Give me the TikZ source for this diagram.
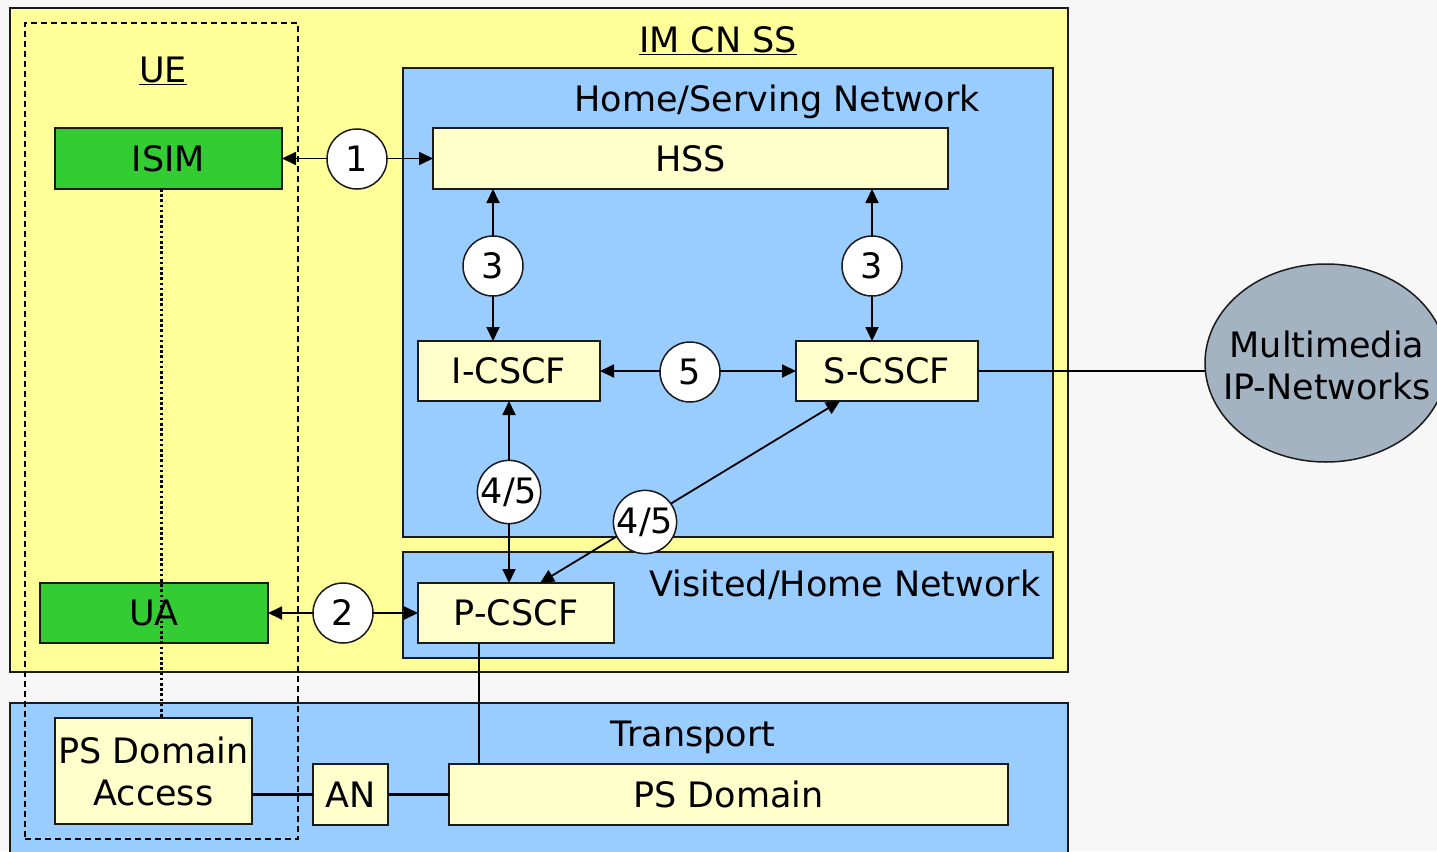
\documentclass[tikz,border=0pt]{standalone}
\usepackage{fontspec}
\setmainfont{DejaVu Sans}
\usetikzlibrary{arrows.meta,shapes.geometric}
\definecolor{bgc}{HTML}{F7F7F7}
\definecolor{imyel}{HTML}{FFFF99}
\definecolor{netblue}{HTML}{99CCFF}
\definecolor{boxyel}{HTML}{FFFFCC}
\definecolor{uegreen}{HTML}{33CC33}
\definecolor{mmgrey}{HTML}{A3B3C2}
\definecolor{edge}{HTML}{1A1A1A}
\begin{document}
\begin{tikzpicture}[x=1pt,y=-1pt,
  every node/.style={font=\fontsize{35}{43}\selectfont, inner sep=0pt, outer sep=0pt},
  area/.style={draw=edge, line width=1.5pt, rectangle},
  elem/.style={draw=edge, line width=1.5pt, rectangle, fill=boxyel, align=center},
  greenbox/.style={elem, fill=uegreen},
  num/.style={draw=edge, line width=1.5pt, circle, fill=white, minimum size=60pt},
  link/.style={line width=1.8pt, draw=black},
  biarrow/.style={link, {Triangle[length=14pt,width=13pt]}-{Triangle[length=14pt,width=13pt]}},
  uedash/.style={draw=black, line width=1.7pt, dash pattern=on 6pt off 4pt},
  dotline/.style={draw=black, line width=2.6pt, dash pattern=on 2.6pt off 2.6pt},
  lbl/.style={text=black}
]
\clip (0,0) rectangle (1437,851);
\fill[bgc] (0,0) rectangle (1437,851);

% containers
\node[area, fill=imyel, minimum width=1058pt, minimum height=664pt] (imcn) at (539,340) {};
\node[area, fill=netblue, minimum width=1058pt, minimum height=170pt] (transport) at (539,788) {};
\node[area, fill=netblue, minimum width=650pt, minimum height=469pt] (hsn) at (728,302.5) {};
\node[area, fill=netblue, minimum width=650pt, minimum height=106pt] (vhn) at (728,605) {};

% titles
\node[lbl] (timcn) at (718,41) {\underline{IM CN SS}};
\node[lbl] (tue) at (163,71) {\underline{UE}};
\node[lbl] (thsn) at (777,102) {Home/Serving Network};
\node[lbl] (tvhn) at (845,585) {Visited/Home Network};
\node[lbl] (ttr) at (693,737) {Transport};

% elements
\node[greenbox, minimum width=227pt, minimum height=61pt] (isim) at (168.5,158.5) {ISIM};
\node[elem, minimum width=515pt, minimum height=61pt] (hss) at (690.5,158.5) {HSS};
\node[elem, minimum width=182pt, minimum height=60pt] (icscf) at (509,371) {I-CSCF};
\node[elem, minimum width=182pt, minimum height=60pt] (scscf) at (887,371) {S-CSCF};
\node[elem, minimum width=196pt, minimum height=60pt] (pcscf) at (516,613) {P-CSCF};
\node[greenbox, minimum width=228pt, minimum height=60pt] (ua) at (154,613) {UA};
\node[elem, minimum width=197pt, minimum height=106pt] (psda) at (153.5,771) {PS Domain\\[-1pt]Access};
\node[elem, minimum width=75pt, minimum height=61pt] (an) at (350.5,794.5) {AN};
\node[elem, minimum width=559pt, minimum height=61pt] (psd) at (728.5,794.5) {PS Domain};

\node[ellipse, draw=edge, line width=1.5pt, fill=mmgrey, minimum width=242pt, minimum height=198pt] (mm) at (1326,363) {};
\node[lbl, align=center] (mmtext) at (1327,365) {Multimedia\\[-1pt]IP-Networks};

% UE dashed boundary
\node[uedash, rectangle, minimum width=273pt, minimum height=816pt] (ue) at (161.5,431) {};

% circle positions
\coordinate (p1) at (357,159);
\coordinate (p3a) at (493,266);
\coordinate (p3b) at (872,266);
\coordinate (p5) at (690,372);
\coordinate (p45a) at (509,492);
\coordinate (p45b) at (645,522);
\coordinate (p2) at (343,613);

% connectors
\draw[dotline] (ue |- isim.south) -- (ue |- psda.north);
\draw[biarrow] (isim.east) -- (hss.west);
\draw[biarrow] (p3a |- hss.south) -- (p3a |- icscf.north);
\draw[biarrow] (p3b |- hss.south) -- (p3b |- scscf.north);
\draw[biarrow] (icscf.east) -- (scscf.west);
\draw[biarrow] (icscf.south) -- (icscf.south |- pcscf.north);
\draw[biarrow] ([xshift=24pt]pcscf.north) -- ([xshift=-47pt]scscf.south);
\draw[biarrow] (ua.east) -- (pcscf.west);
\draw[link] (scscf.east) -- (scscf.east -| mm.west);
\draw[link] ([xshift=-37pt]pcscf.south) -- ([xshift=-37pt]pcscf.south |- psd.north);
\draw[link, line width=2.6pt] (psda.east |- an.west) -- (an.west);
\draw[link, line width=2.6pt] (an.east) -- (psd.west);

% numbered circles
\node[num] (c1) at (p1) {1};
\node[num] (c3a) at (p3a) {3};
\node[num] (c3b) at (p3b) {3};
\node[num] (c5) at (p5) {5};
\node[num] (c45a) at (p45a) {4/5};
\node[num] (c45b) at (p45b) {4/5};
\node[num] (c2) at (p2) {2};
\end{tikzpicture}
\end{document}
